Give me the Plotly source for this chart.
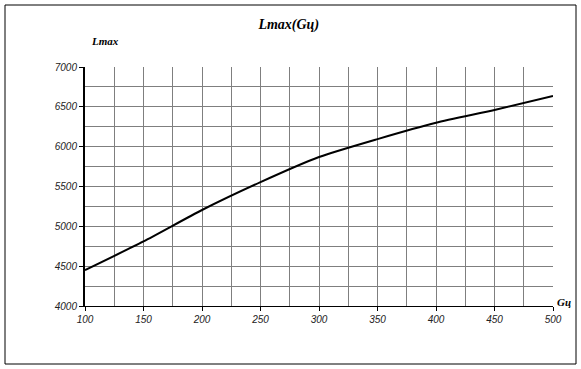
import plotly.graph_objects as go

G = [100, 150, 200, 250, 300, 350, 400, 450, 500]
Lmax = [4450, 4810, 5205, 5555, 5870, 6095, 6300, 6460, 6635]

x_ticks = [100, 150, 200, 250, 300, 350, 400, 450, 500]
y_ticks = [4000, 4500, 5000, 5500, 6000, 6500, 7000]
x_grid = [125, 150, 175, 200, 225, 250, 275, 300, 325, 350, 375, 400, 425, 450, 475]
y_grid = [4250, 4500, 4750, 5000, 5250, 5500, 5750, 6000, 6250, 6500, 6750]

font_serif = "Liberation Serif, Times New Roman, serif"
font_sans = "Liberation Sans, Arial, sans-serif"

fig = go.Figure()
fig.add_trace(go.Scatter(x=G, y=Lmax, mode="lines",
                         line=dict(color="black", width=2, shape="spline", smoothing=0.6),
                         showlegend=False, hoverinfo="skip"))

fig.update_layout(
    width=581, height=369,
    margin=dict(l=85, r=28, t=67, b=63),
    paper_bgcolor="white", plot_bgcolor="white",
    title=dict(text="<b><i>Lmax(Gц)</i></b>", x=0.497, xanchor="center", y=0.935, yanchor="middle",
               font=dict(family=font_serif, size=14, color="black")),
    xaxis=dict(range=[100, 500], tickvals=x_ticks, ticktext=[f"<i>{v}</i>" for v in x_ticks],
               showline=True, linecolor="black", linewidth=1,
               ticks="outside", ticklen=4, tickcolor="black",
               showgrid=False, zeroline=False,
               minor=dict(tickvals=x_grid, showgrid=True, gridcolor="#7f7f7f", gridwidth=1),
               tickfont=dict(family=font_sans, size=10, color="#222222")),
    yaxis=dict(range=[4000, 7000], tickvals=y_ticks, ticktext=[f"<i>{v}</i>" for v in y_ticks],
               showline=True, linecolor="black", linewidth=2,
               ticks="outside", ticklen=4, tickcolor="black",
               showgrid=False, zeroline=False,
               minor=dict(tickvals=y_grid, showgrid=True, gridcolor="#7f7f7f", gridwidth=1),
               tickfont=dict(family=font_sans, size=10, color="#222222")),
    annotations=[
        dict(text="<b><i>Lmax</i></b>", xref="paper", yref="paper", x=(105 - 85) / 468, y=(306 - 41) / 239,
             showarrow=False, xanchor="center", yanchor="middle",
             font=dict(family=font_serif, size=11, color="black")),
        dict(text="<b><i>Gц</i></b>", xref="paper", yref="paper", x=(564 - 85) / 468, y=(306 - 302) / 239,
             showarrow=False, xanchor="center", yanchor="middle",
             font=dict(family=font_serif, size=11, color="black")),
    ],
    shapes=[dict(type="rect", xref="paper", yref="paper",
                 x0=(5 - 85) / 468, x1=(576 - 85) / 468,
                 y0=(306 - 364) / 239, y1=(306 - 5) / 239,
                 line=dict(color="black", width=1), fillcolor="rgba(0,0,0,0)", layer="below")],
)

fig.write_html("out.html", config={"displayModeBar": False},
               post_script="document.body.style.margin='0';document.body.style.overflow='hidden';")
